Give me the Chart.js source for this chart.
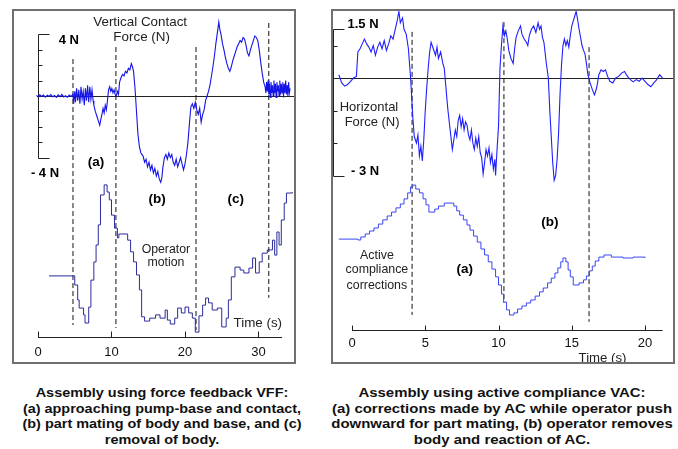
<!DOCTYPE html>
<html>
<head>
<meta charset="utf-8">
<script src="https://cdn.jsdelivr.net/npm/chart.js@4.4.1/dist/chart.umd.min.js"></script>
<style>
  body { margin: 0; width: 678px; height: 449px; background: #fff; position: relative; font-family: "Liberation Sans", Arial, sans-serif; }
  .panel { position: absolute; border: 2px solid #707070; }
  .panel canvas { display: block; }
  .cap { position: absolute; text-align: center; font-weight: bold; font-size: 13px; line-height: 15.7px; color: #111; white-space: nowrap; }
</style>
</head>
<body>
<div class="panel" style="left:12px;top:9px;width:280px;height:351px"><canvas id="vff" width="280" height="351"></canvas></div>
<div class="panel" style="left:331px;top:9px;width:340px;height:351px"><canvas id="vac" width="340" height="351"></canvas></div>
<div class="cap" style="left:12px;top:385px;width:300px;transform:scaleX(1.11)">Assembly using force feedback VFF:<br>(a) approaching pump-base and contact,<br>(b) part mating of body and base, and (c)<br>removal of body.</div>
<div class="cap" style="left:342px;top:385px;width:320px;transform:scaleX(1.15)">Assembly using active compliance VAC:<br>(a) corrections made by AC while operator push<br>downward for part mating, (b) operator removes<br>body and reaction of AC.</div>
<script>
// ---- left panel (VFF): vertical contact force and operator motion ----
const vffForceT = [-0.2,0,0.25,0.5,0.75,1,1.25,1.5,1.75,2,2.25,2.5,2.75,3,3.25,3.5,3.75,4,4.25,4.5,4.75,4.85,
  5.0,5.1,5.25,5.4,5.55,5.7,5.85,6.0,6.15,6.3,6.45,6.6,6.75,6.9,7.05,7.2,7.35,7.5,7.6,7.8,8.0,8.2,8.4,8.55,8.7,8.85,
  9.0,9.15,9.3,9.45,9.6,9.75,9.9,10.05,10.2,10.35,10.5,10.65,10.8,10.95,11.1,11.3,11.5,11.7,11.9,12.1,12.3,12.5,12.7,12.85,
  13.0,13.2,13.4,13.6,13.8,14.0,14.3,14.5,14.7,14.9,15.1,15.3,15.5,15.7,15.9,16.1,16.3,16.5,16.7,16.85,17.0,17.2,17.4,17.6,
  17.8,18.0,18.2,18.4,18.6,18.8,19.0,19.2,19.4,19.6,19.8,20.0,20.2,20.4,20.6,20.8,21.0,21.2,21.4,21.6,21.8,22.0,22.2,22.4,
  22.6,22.8,23.0,23.2,23.4,23.6,23.8,24.0,24.2,24.4,24.6,24.75,24.9,25.1,25.3,25.5,25.7,25.9,26.1,26.3,26.5,26.7,26.9,27.1,
  27.3,27.5,27.7,27.9,28.1,28.3,28.5,28.7,28.9,29.1,29.3,29.5,29.7,29.9,30.1,30.3,30.5,30.7,30.9,
  31.0,31.1,31.2,31.3,31.4,31.5,31.6,31.7,31.8,31.9,32.0,32.1,32.2,32.3,32.4,32.5,32.6,32.7,32.8,32.9,
  33.0,33.1,33.2,33.3,33.4,33.5,33.6,33.7,33.8,33.9,34.0,34.1,34.2,34.3];
const vffForceN = [0.04,-0.06,0.08,-0.03,0.06,-0.08,0.05,-0.02,0.09,-0.05,0.03,-0.09,0.07,-0.04,0.1,-0.06,0.02,-0.08,0.07,-0.03,0.12,-0.5,
  0.3,-0.4,0.5,-0.3,0.4,-0.5,0.6,-0.2,0.3,-0.6,0.5,-0.3,0.7,-0.4,0.6,-0.2,0.4,-0.3,-0.6,-1.0,-1.3,-1.6,-1.9,-1.5,-1.2,-0.8,
  -1.1,-0.6,-0.9,-0.3,0.4,0.6,0.3,0.5,0.2,0.4,0.1,0.0,0.3,0.1,0.9,1.2,1.4,1.3,1.6,1.5,1.8,1.7,2.1,1.9,
  1.6,0.5,-1.0,-2.5,-3.3,-3.7,-3.9,-4.3,-4.1,-4.6,-4.3,-4.8,-4.5,-5.0,-4.7,-5.2,-4.9,-5.4,-5.6,-5.3,-4.6,-4.0,-3.8,-4.1,
  -3.7,-4.0,-3.8,-4.3,-4.5,-4.1,-4.6,-4.3,-4.0,-4.4,-4.8,-4.4,-3.8,-3.0,-1.8,-0.7,-0.5,-0.8,-0.4,-0.9,-1.2,-0.8,-1.7,-1.2,
  -0.9,-0.3,0.0,0.3,0.7,1.3,1.9,2.6,3.4,4.1,4.8,4.3,4.0,3.4,3.0,2.5,2.1,1.8,1.6,1.9,2.3,2.6,2.9,3.2,
  3.4,3.6,3.5,3.8,3.7,3.3,2.8,2.6,3.0,3.3,3.6,3.9,3.8,3.6,3.0,2.2,1.5,0.9,0.6,
  0.2,0.9,0.3,1.0,0.1,0.8,-0.1,0.9,0.2,0.7,0.0,1.0,0.2,0.8,-0.1,0.9,0.3,0.7,0.0,1.0,
  0.1,0.8,0.2,0.9,-0.1,0.8,0.2,1.0,0.1,0.7,0.0,0.9,0.2,0.5];
const vffMotionT = [1.5,5.0,5.4,5.6,6.2,6.4,6.9,7.2,7.6,7.9,8.2,8.5,9.0,9.4,9.7,10.0,10.4,10.8,11.0,12.2,12.6,13.0,13.4,13.8,
  14.1,14.5,15.2,16.0,16.6,17.3,17.6,18.0,18.6,19.0,19.5,20.0,20.5,21.0,21.4,21.9,22.4,22.8,23.2,23.7,24.4,25.0,25.6,25.9,
  26.3,26.8,27.5,28.0,28.7,29.2,29.6,30.1,30.5,31.2,31.9,32.2,32.5,32.8,33.1,33.5,33.8,34.6];
const vffMotion = [18.8,16.0,11.4,8.9,6.8,4.3,9.2,17.5,23.1,28.3,34.5,43.7,46.8,44.6,42.2,37.5,33.5,30.5,31.7,29.8,26.2,23.1,19.1,14.5,
  6.2,4.9,5.8,6.8,5.8,8.3,5.2,4.0,5.8,8.9,7.4,9.2,7.4,5.8,1.5,6.5,9.8,12.0,10.5,8.3,8.9,3.1,5.8,11.4,
  18.5,21.5,20.6,19.7,21.2,24.3,19.7,23.1,25.8,26.8,29.8,25.2,32.3,28.3,36.0,41.2,44.3,44.6];
const vffPhaseLines = [4.76, 10.6, 21.5, 31.4];
const vffTicks = [0, 10, 20, 30];

// ---- right panel (VAC): horizontal force and active compliance corrections ----
const vacForceT = [-0.9,-0.7,-0.5,-0.3,-0.1,0.1,0.3,0.4,0.55,0.7,0.85,1.0,1.15,1.3,1.45,1.6,1.75,1.9,2.05,2.2,2.35,2.5,2.65,2.8,
  2.95,3.1,3.2,3.3,3.45,3.55,3.7,3.85,4.0,4.15,4.25,4.4,4.5,4.6,4.7,4.8,4.9,5.0,5.1,5.2,5.3,5.4,5.55,5.7,5.8,5.9,6.05,6.2,
  6.3,6.45,6.55,6.7,6.85,6.95,7.05,7.15,7.25,7.35,7.45,7.55,7.65,7.75,7.85,7.95,8.05,8.15,8.25,8.35,8.45,8.55,8.65,8.75,
  8.85,8.95,9.05,9.15,9.25,9.35,9.45,9.55,9.65,9.75,9.8,9.9,10.0,10.1,10.2,10.3,10.4,10.5,10.6,10.7,10.85,11.0,11.1,11.2,
  11.35,11.5,11.6,11.75,11.9,12.0,12.1,12.25,12.4,12.55,12.7,12.8,12.9,13.0,13.1,13.25,13.4,13.5,13.6,13.7,13.8,13.9,14.0,
  14.1,14.2,14.3,14.4,14.5,14.6,14.7,14.8,14.9,15.0,15.1,15.2,15.3,15.4,15.5,15.6,15.7,15.8,15.9,16.0,16.1,16.25,16.4,16.55,
  16.7,16.85,17.0,17.15,17.3,17.45,17.6,17.8,18.0,18.2,18.4,18.6,18.8,19.0,19.2,19.4,19.6,19.8,20.0,20.2,20.4,20.6,20.8,21.0,21.2];
const vacForceN = [0.1,-0.15,-0.25,-0.2,-0.1,0.0,0.05,0.8,0.9,1.05,1.2,1.05,0.95,0.8,1.0,0.7,0.95,1.1,0.9,1.15,0.85,1.05,1.3,1.2,
  1.5,1.8,2.05,1.7,1.85,1.5,1.35,0.9,0.0,-1.2,-1.8,-2.0,-1.75,-2.4,-2.1,-2.55,-1.9,-1.0,-0.3,0.3,0.8,1.1,0.9,0.7,0.95,0.6,0.8,0.45,
  0.3,-0.5,-1.0,-1.6,-2.2,-1.9,-1.6,-1.8,-1.3,-1.15,-1.5,-1.25,-1.6,-1.35,-1.45,-1.75,-1.9,-1.6,-2.0,-2.2,-1.85,-2.1,-1.8,-2.3,
  -2.45,-2.95,-2.6,-2.2,-2.4,-2.15,-2.6,-2.35,-2.8,-2.5,-3.0,-2.2,-1.5,0.3,1.0,1.6,1.3,1.45,1.2,0.85,0.6,0.45,0.9,1.25,
  1.45,1.6,1.35,1.2,1.1,1.0,1.3,1.5,1.6,1.4,1.7,1.5,1.6,1.25,1.1,0.5,0.0,-1.0,-1.8,-2.6,-3.15,-3.0,-2.5,
  -1.7,-0.5,0.4,1.0,1.2,1.0,1.15,0.95,1.3,1.6,1.75,1.9,2.05,1.8,1.5,1.25,1.0,0.85,0.75,0.45,0.1,-0.15,-0.35,-0.52,
  -0.3,0.1,0.25,0.2,0.25,0.05,-0.1,-0.15,0.0,0.05,0.15,0.2,0.05,-0.05,-0.12,-0.05,-0.1,0.0,-0.1,-0.2,-0.27,-0.15,-0.05,0.1,0.0];
const vacMotionT = [-0.9,0.4,0.6,0.9,1.2,1.5,1.8,2.1,2.4,2.7,3.0,3.3,3.55,3.8,4.0,4.15,4.35,4.6,4.85,5.05,5.25,5.65,5.9,6.3,
  6.95,7.15,7.35,7.6,7.85,8.05,8.3,8.55,8.8,9.05,9.3,9.55,9.8,10.0,10.2,10.35,10.55,10.75,11.05,11.3,11.6,11.9,12.2,12.5,
  12.8,13.05,13.35,13.6,13.85,14.05,14.25,14.4,14.6,14.75,14.9,15.1,15.5,15.8,16.0,16.2,16.4,16.6,16.85,17.2,17.7,18.5,19.2,20.0];
const vacMotion = [30.3,30.0,31.0,32.0,33.0,34.0,35.3,36.7,38.0,39.3,40.7,42.0,43.7,45.7,47.7,48.3,47.0,45.7,43.7,41.7,39.3,40.3,41.3,42.3,
  41.3,39.7,38.3,36.7,35.0,33.3,31.3,29.3,27.0,25.0,22.7,20.3,17.7,15.0,12.0,9.3,6.7,5.0,5.7,7.0,8.0,9.0,10.0,11.3,
  12.7,14.0,15.7,17.3,19.0,20.7,22.7,24.0,22.7,20.0,17.7,15.0,15.7,16.7,18.0,19.7,21.3,23.0,24.3,25.0,24.3,24.0,24.3,24.0];
const vacPhaseLines = [4.1, 10.37, 16.18];
const vacTicks = [0, 5, 10, 15, 20];

const pts = (xs, ys) => xs.map((x, i) => ({ x: x, y: ys[i] }));
const FONT = '"Liberation Sans", Arial, sans-serif';

// draws the force bracket, zero line, time axis and the annotations
const decor = {
  id: 'decor',
  beforeDatasetsDraw(chart, args, o) {
    const { ctx, chartArea } = chart;
    const sx = chart.scales.x, sf = chart.scales.y, sm = chart.scales.y2;
    ctx.save();
    ctx.strokeStyle = '#222';
    ctx.lineWidth = 1;
    // zero line
    const y0 = Math.round(sf.getPixelForValue(0)) + 0.5;
    ctx.beginPath();
    ctx.moveTo(o.zeroFrom, y0);
    ctx.lineTo(chartArea.right, y0);
    ctx.stroke();
    // force bracket
    const bx = Math.round(o.bracketX) + 0.5;
    const yt = Math.round(sf.getPixelForValue(o.fMax)) + 0.5;
    const yb = Math.round(sf.getPixelForValue(o.fMin)) + 0.5;
    ctx.beginPath();
    ctx.moveTo(bx + 11, yt); ctx.lineTo(bx, yt); ctx.lineTo(bx, yb); ctx.lineTo(bx + 11, yb);
    o.fTicks.forEach(v => {
      const y = Math.round(sf.getPixelForValue(v)) + 0.5;
      ctx.moveTo(bx, y); ctx.lineTo(bx + 4, y);
    });
    ctx.stroke();
    // time axis
    const ya = Math.round(sm.getPixelForValue(0)) + 0.5;
    ctx.beginPath();
    ctx.moveTo(sx.getPixelForValue(0), ya);
    ctx.lineTo(sx.getPixelForValue(o.axisEnd), ya);
    o.ticks.forEach(t => {
      const x = Math.round(sx.getPixelForValue(t)) + 0.5;
      ctx.moveTo(x, ya); ctx.lineTo(x, ya - o.tickLen);
    });
    ctx.stroke();
    ctx.fillStyle = '#111';
    ctx.font = '13px ' + FONT;
    ctx.textAlign = 'center';
    ctx.textBaseline = 'middle';
    o.ticks.forEach(t => ctx.fillText(String(t), sx.getPixelForValue(t), ya + o.labelGap));
    ctx.restore();
  },
  afterDatasetsDraw(chart, args, o) {
    const { ctx } = chart;
    const sx = chart.scales.x, sf = chart.scales.y;
    ctx.save();
    ctx.textAlign = 'center';
    ctx.textBaseline = 'middle';
    o.labels.forEach(l => {
      ctx.font = (l.bold ? 'bold ' : '') + (l.size || 13) + 'px ' + FONT;
      ctx.fillStyle = l.bold ? '#000' : '#222';
      ctx.fillText(l.text, sx.getPixelForValue(l.t), sf.getPixelForValue(l.f));
    });
    ctx.restore();
  }
};

function dashed(times, tops, bottoms) {
  return times.map((t, i) => ({
    data: [{ x: t, y: tops[i] }, { x: t, y: bottoms[i] }],
    yAxisID: 'y', borderColor: '#111', borderWidth: 1, borderDash: [5, 3], pointRadius: 0
  }));
}

function makeChart(id, cfg) {
  return new Chart(document.getElementById(id), {
    type: 'line',
    data: {
      datasets: [
        { data: pts(cfg.fT, cfg.fN), yAxisID: 'y', borderColor: cfg.forceColor, borderWidth: 1.1, pointRadius: 0, tension: 0 },
        { data: pts(cfg.mT, cfg.mV), yAxisID: 'y2', borderColor: cfg.motionColor, borderWidth: 1, pointRadius: 0, stepped: true },
        ...dashed(cfg.lines, cfg.lineTops, cfg.lineBottoms)
      ]
    },
    options: {
      responsive: false,
      animation: false,
      layout: { padding: 0 },
      plugins: { legend: { display: false }, tooltip: { enabled: false }, decor: cfg.decor },
      scales: {
        x: { type: 'linear', display: false, min: cfg.xMin, max: cfg.xMax },
        y: { type: 'linear', display: false, min: cfg.fLo, max: cfg.fHi },
        y2: { type: 'linear', display: false, min: cfg.mLo, max: cfg.mHi }
      }
    },
    plugins: [decor]
  });
}

makeChart('vff', {
  fT: vffForceT, fN: vffForceN, mT: vffMotionT, mV: vffMotion,
  forceColor: '#1414e6', motionColor: '#2b2b9c',
  lines: vffPhaseLines, lineTops: [2.4, 3.18, 3.18, 4.74], lineBottoms: [-14.87, -15.06, -15.2, -13.1],
  xMin: -3.265, xMax: 34.83, fLo: -17.27, fHi: 5.52, mLo: -7.69, mHi: 100.3,
  decor: {
    zeroFrom: 23, bracketX: 24, fMax: 4, fMin: -4, fTicks: [3, 2, 1, -1, -2, -3],
    ticks: vffTicks, axisEnd: 33.2, tickLen: 6, labelGap: 15,
    labels: [
      { text: 'Vertical Contact', t: 13.9, f: 4.8, size: 13.4 },
      { text: 'Force (N)', t: 14.1, f: 3.83, size: 13.4 },
      { text: '4 N', t: 4.2, f: 3.64, bold: true, size: 13 },
      { text: '- 4 N', t: 0.95, f: -5.0, bold: true, size: 13 },
      { text: '(a)', t: 7.9, f: -4.29, bold: true, size: 13.5 },
      { text: '(b)', t: 16.2, f: -6.69, bold: true, size: 13.5 },
      { text: '(c)', t: 26.9, f: -6.69, bold: true, size: 13.5 },
      { text: 'Operator', t: 17.4, f: -9.94, size: 12.3 },
      { text: 'motion', t: 17.4, f: -10.84, size: 12.3 },
      { text: 'Time (s)', t: 29.9, f: -14.74, size: 13.4 }
    ]
  }
});

makeChart('vac', {
  fT: vacForceT, fN: vacForceN, mT: vacMotionT, mV: vacMotion,
  forceColor: '#1f1fff', motionColor: '#3a46f2',
  lines: vacPhaseLines, lineTops: [1.42, 1.72, 0.95], lineBottoms: [-7.29, -6.92, -7.5],
  xMin: -1.297, xMax: 21.91, fLo: -8.738, fHi: 2.062, mLo: -10.67, mHi: 106.33,
  decor: {
    zeroFrom: 0, bracketX: 0, fMax: 1.5, fMin: -3, fTicks: [1, 0, -1, -2],
    ticks: vacTicks, axisEnd: 21.2, tickLen: 5, labelGap: 13,
    labels: [
      { text: '1.5 N', t: 0.75, f: 1.66, bold: true, size: 13 },
      { text: '- 3 N', t: 0.89, f: -2.86, bold: true, size: 13 },
      { text: 'Horizontal', t: 1.16, f: -0.89, size: 13 },
      { text: 'Force (N)', t: 1.37, f: -1.38, size: 13 },
      { text: '(b)', t: 13.5, f: -4.43, bold: true, size: 13.5 },
      { text: '(a)', t: 7.7, f: -5.88, bold: true, size: 13.5 },
      { text: 'Active', t: 1.7, f: -5.45, size: 12.4 },
      { text: 'compliance', t: 1.7, f: -5.9, size: 12.4 },
      { text: 'corrections', t: 1.7, f: -6.4, size: 12.4 },
      { text: 'Time (s)', t: 17.1, f: -8.62, size: 13.2 }
    ]
  }
});
</script>
</body>
</html>
